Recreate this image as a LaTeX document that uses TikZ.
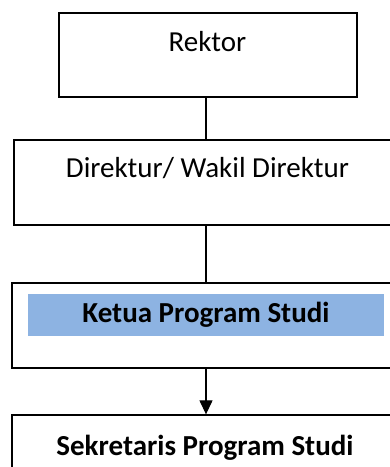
\documentclass[tikz,border=0pt]{standalone}
\usepackage{fontspec}
\setmainfont{Carlito}
\usetikzlibrary{arrows.meta}
\definecolor{boxblue}{HTML}{8DB3E2}
\begin{document}
\begin{tikzpicture}[x=1pt,y=1pt,
  box/.style={draw, line width=1.3pt, inner sep=0pt, rectangle},
  band/.style={fill=boxblue, draw=none, inner sep=0pt, rectangle},
  lbl/.style={anchor=base, inner sep=0pt, font=\fontsize{29}{34}\selectfont},
  conn/.style={line width=1.2pt}]
\useasboundingbox (0,0) rectangle (390,467);
\clip (0,0) rectangle (390,467);
\node[box, minimum width=298, minimum height=84] (rektor) at (208,412) {};
\node[box, minimum width=384, minimum height=85] (direktur) at (206,284.5) {};
\node[box, minimum width=388, minimum height=85] (ketua) at (206,141.5) {};
\node[band, minimum width=356, minimum height=42] (kband) at (206,152) {};
\node[box, minimum width=388, minimum height=75] (sekretaris) at (206,14.5) {};
\node[lbl] (trektor) at (207.5,415) {Rektor};
\node[lbl] (tdirektur) at (207.5,289) {Direktur/ Wakil Direktur};
\node[lbl] (tketua) at (206,144) {\bfseries Ketua Program Studi};
\node[lbl] (tsekretaris) at (205,12) {\bfseries Sekretaris Program Studi};
\draw[conn] (rektor.south -| direktur.north) -- (direktur.north);
\draw[conn] (direktur.south) -- (ketua.north);
\draw[conn, -{Triangle[length=14pt,width=13pt]}] (ketua.south) -- (sekretaris.north);
\end{tikzpicture}
\end{document}
